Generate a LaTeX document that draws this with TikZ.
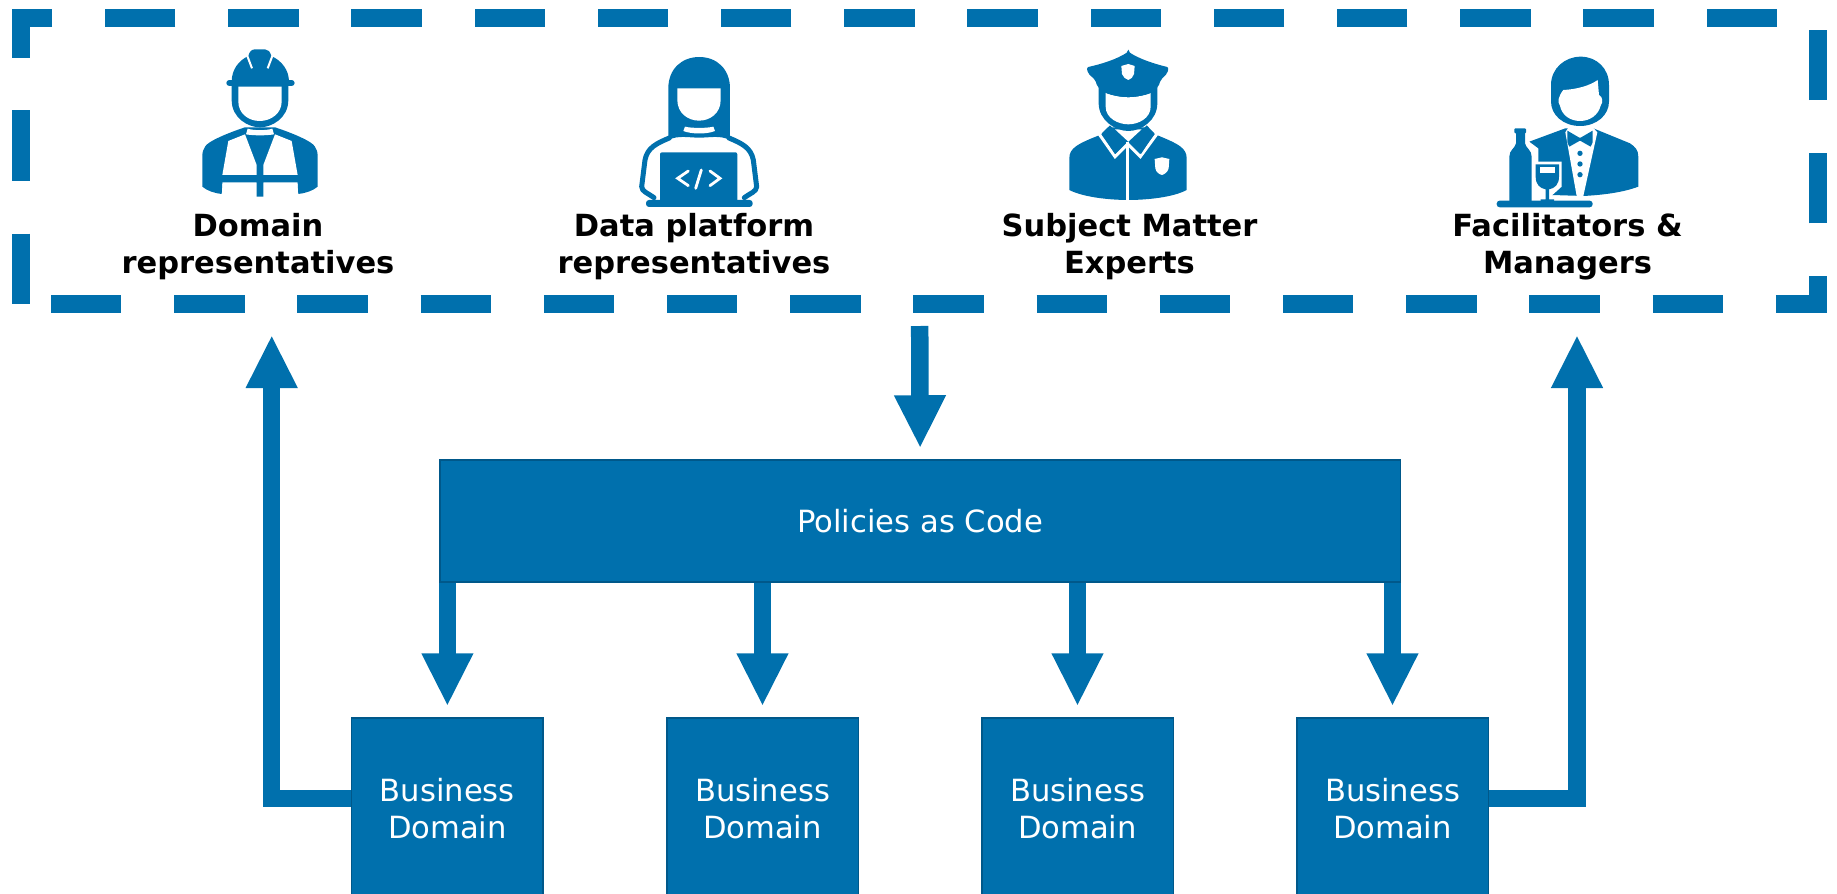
\documentclass[tikz,border=0pt]{standalone}
\usepackage{fontspec}
\setmainfont{DejaVu Sans}
\usetikzlibrary{arrows.meta}
\definecolor{iconblue}{RGB}{0,112,173}
\definecolor{edgeblue}{RGB}{0,88,138}
\begin{document}
\begin{tikzpicture}[x=1pt,y=-1pt,
  bluebox/.style={draw=edgeblue,fill=iconblue,line width=1.5pt,text=white,align=center,inner sep=0pt,font=\fontsize{30.6}{36.5}\selectfont},
  teamlabel/.style={align=center,inner sep=0pt,font=\bfseries\fontsize{30.5}{37}\selectfont},
  flow/.style={draw=iconblue,line width=17.5pt,-{Triangle[length=53pt,width=48pt]}},
  iconline/.style={draw=iconblue,line width=5pt,line cap=round,line join=round},
  iconicon/.style={shift={#1},scale=0.3333}]

\useasboundingbox (0,0) rectangle (1837,894);

% Equipe
\node[draw=iconblue,line width=18pt,dash pattern=on 70.4pt off 52.8pt,dash phase=93.2pt,minimum width=1797.3pt,minimum height=285.7pt,inner sep=0pt] (team) at (919.65,161.15) {};

% Rotulos
\node[teamlabel] (domainlabel) at (258,246.5) {Domain\\representatives};
\node[teamlabel] (platformlabel) at (694,246.5) {Data platform\\representatives};
\node[teamlabel] (expertlabel) at (1129.5,246.5) {Subject Matter\\Experts};
\node[teamlabel] (managerlabel) at (1567.5,246.5) {Facilitators \&\\Managers};

% Caixas
\node[bluebox,minimum width=960.5pt,minimum height=122pt] (policies) at (920.2,521) {Policies as Code};
\node[bluebox,minimum width=191.5pt,minimum height=181pt] (bd1) at (447.4,808.5) {Business\\Domain};
\node[bluebox,minimum width=191.5pt,minimum height=181pt] (bd2) at (762.5,808.5) {Business\\Domain};
\node[bluebox,minimum width=191.5pt,minimum height=181pt] (bd3) at (1077.5,808.5) {Business\\Domain};
\node[bluebox,minimum width=191.5pt,minimum height=181pt] (bd4) at (1392.5,808.5) {Business\\Domain};

% Setas
\draw[flow,shorten <=13pt,shorten >=11pt] (team.south) -- (policies.north);
\draw[flow,shorten >=11pt] (policies.south -| bd1.north) -- (bd1.north);
\draw[flow,shorten >=11pt] (policies.south -| bd2.north) -- (bd2.north);
\draw[flow,shorten >=11pt] (policies.south -| bd3.north) -- (bd3.north);
\draw[flow,shorten >=11pt] (policies.south -| bd4.north) -- (bd4.north);

% Retornos
\coordinate (leftbend) at (271.7,798.5);
\coordinate (lefttip) at (271.7,335);
\coordinate (rightbend) at (1577,798.5);
\coordinate (righttip) at (1577,335);
\draw[flow] (bd1.west |- leftbend) -- (leftbend) -- (lefttip);
\draw[flow] (bd4.east |- rightbend) -- (rightbend) -- (righttip);

% Trabalhador
\begin{scope}[iconicon={(190,40)}]
\fill[iconblue] (37,350) .. controls (37,322) and (48,312) .. (75,298) .. controls (105,283) and (135,272) .. (165,262) -- (255,262) .. controls (285,272) and (315,283) .. (345,298) .. controls (372,312) and (383,322) .. (383,350) -- (383,440) .. controls (370,452) and (345,460) .. (325,462) -- (323,427) -- (220,427) -- (220,470) -- (200,470) -- (200,427) -- (97,427) -- (95,462) .. controls (75,460) and (50,452) .. (37,440) -- cycle;
\fill[white] (115,303) -- (165,283) -- (200,375) -- (200,405) -- (97,405) -- cycle;
\fill[white] (305,303) -- (255,283) -- (220,375) -- (220,405) -- (323,405) -- cycle;
\fill[white] (173,266) .. controls (190,272) and (230,272) .. (247,266) -- (252,283) .. controls (230,287) and (190,287) .. (168,283) -- cycle;
\fill[iconblue] (125,125) -- (125,180) .. controls (125,235) and (175,262) .. (210,262) .. controls (245,262) and (295,235) .. (295,180) -- (295,125) -- cycle;
\fill[white] (145,140) -- (145,185) .. controls (145,220) and (175,243) .. (209,243) .. controls (243,243) and (275,220) .. (275,185) -- (275,140) -- cycle;
\fill[iconblue] (125,125) .. controls (125,90) and (145,62) .. (175,48) .. controls (178,35) and (185,28) .. (195,28) -- (225,28) .. controls (235,28) and (240,35) .. (244,48) .. controls (275,62) and (297,90) .. (297,125) -- cycle;
\draw[iconblue,line width=6pt,line cap=round] (118,129) -- (305,129);
\draw[white,line width=2pt] (172,48) -- (186,85) (247,48) -- (233,85);
\end{scope}

% Programadora
\begin{scope}[iconicon={(630,45)}]
\fill[iconblue] (115,285) -- (115,130) .. controls (115,72) and (155,36) .. (208,36) .. controls (260,36) and (300,72) .. (300,130) -- (300,285) .. controls (270,270) and (240,278) .. (208,278) .. controls (175,278) and (145,270) .. (115,285) -- cycle;
\fill[white] (165,245) .. controls (185,250) and (230,250) .. (250,245) -- (255,258) .. controls (230,268) and (185,268) .. (160,258) -- cycle;
\fill[white] (142,130) -- (272,130) -- (272,165) .. controls (272,205) and (240,227) .. (207,227) .. controls (175,227) and (142,205) .. (142,165) -- cycle;
\draw[iconline] (118,279) .. controls (80,295) and (52,308) .. (45,345) -- (35,425) .. controls (35,440) and (55,445) .. (72,458);
\draw[iconline] (297,279) .. controls (335,295) and (363,308) .. (370,345) -- (380,425) .. controls (380,440) and (360,445) .. (343,458);
\fill[iconblue,rounded corners=2pt] (90,322) rectangle (322,470);
\fill[iconblue,rounded corners=3pt] (48,465) rectangle (368,486);
\draw[white,line width=2.8pt,line cap=round] (175,378) -- (143,400) -- (175,422) (214,375) -- (197,430) (240,378) -- (270,400) -- (240,422);
\end{scope}

% Especialista
\begin{scope}[iconicon={(1060,40)}]
\fill[iconblue] (28,355) .. controls (28,325) and (50,312) .. (125,283) -- (150,262) -- (260,262) -- (285,283) .. controls (358,312) and (380,325) .. (380,355) -- (380,450) .. controls (340,472) and (260,480) .. (205,480) .. controls (150,480) and (70,472) .. (28,450) -- cycle;
\draw[white,line width=3pt,line join=miter] (118,283) -- (165,350) -- (203,312) -- (241,350) -- (290,283);
\fill[white] (165,268) -- (205,305) -- (245,268) -- cycle;
\fill[iconblue] (150,256) -- (197,307) -- (165,342) -- (125,280) -- cycle;
\fill[iconblue] (260,256) -- (213,307) -- (243,342) -- (283,280) -- cycle;
\fill[white] (198,305) rectangle (208,482);
\fill[white] (284,357) -- (306,352) -- (328,357) -- (326,385) .. controls (323,397) and (313,403) .. (306,405) .. controls (298,403) and (288,397) .. (286,385) -- cycle;
\fill[iconblue] (116,140) -- (116,190) .. controls (116,240) and (165,273) .. (205,273) .. controls (245,273) and (292,240) .. (292,190) -- (292,140) -- cycle;
\fill[white] (137,158) -- (137,200) .. controls (137,235) and (175,253) .. (205,253) .. controls (235,253) and (272,235) .. (272,200) -- (272,158) .. controls (250,168) and (225,172) .. (205,172) .. controls (185,172) and (160,168) .. (137,158) -- cycle;
\fill[iconblue,rounded corners=2pt] (205,35) .. controls (170,58) and (125,72) .. (80,82) -- (84,100) -- (106,120) -- (112,140) -- (135,158) .. controls (155,166) and (180,170) .. (205,170) .. controls (230,170) and (255,166) .. (275,158) -- (295,140) -- (302,120) -- (322,100) -- (326,82) .. controls (285,72) and (240,58) .. (205,35) -- cycle;
\fill[white] (184,78) -- (205,72) -- (224,78) -- (222,102) .. controls (220,112) and (212,117) .. (205,120) .. controls (198,117) and (188,112) .. (186,102) -- cycle;
\end{scope}

% Garcom
\begin{scope}[iconicon={(1490,45)}]
\fill[iconblue] (118,290) -- (226,250) -- (310,250) -- (420,295) .. controls (435,305) and (445,315) .. (445,335) -- (445,425) .. controls (400,442) and (340,450) .. (280,453) -- (185,450) -- (145,450) -- (145,310) -- cycle;
\fill[white] (226,262) -- (238,243) -- (305,243) -- (322,262) -- (280,453) -- (260,453) -- cycle;
\fill[iconblue] (232,257) -- (268,278) -- (272,278) -- (308,257) -- (308,292) -- (302,305) -- (272,288) -- (268,288) -- (238,305) -- (232,292) -- cycle;
\fill[iconblue] (270,325) circle (8) (270,357) circle (8) (270,389) circle (8);
\fill[white] (118,290) -- (133,320) -- (133,350) -- (215,350) -- (215,425) -- (185,452) -- (100,470) -- (100,290) -- cycle;
\fill[iconblue] (183,120) .. controls (183,70) and (225,35) .. (272,35) .. controls (320,35) and (357,70) .. (357,120) -- (357,170) .. controls (357,210) and (320,243) .. (270,243) .. controls (220,243) and (183,210) .. (183,170) -- cycle;
\fill[white] (220,135) .. controls (260,133) and (300,122) .. (323,105) -- (327,150) .. controls (338,155) and (340,172) .. (332,182) .. controls (325,210) and (300,228) .. (270,228) .. controls (240,228) and (215,210) .. (210,182) .. controls (202,172) and (204,155) .. (220,135) -- cycle;
\fill[iconblue,rounded corners=1pt] (73,250) rectangle (108,265);
\fill[iconblue] (78,262) -- (105,262) -- (105,295) .. controls (108,310) and (125,315) .. (125,335) -- (125,470) -- (58,470) -- (58,335) .. controls (58,315) and (75,310) .. (78,295) -- cycle;
\fill[iconblue] (137,358) -- (207,358) -- (207,395) .. controls (207,418) and (195,430) .. (177,433) -- (177,463) -- (192,463) -- (192,470) -- (152,470) -- (152,463) -- (167,463) -- (167,433) .. controls (149,430) and (137,418) .. (137,395) -- cycle;
\fill[white] (150,367) rectangle (194,385);
\fill[iconblue,rounded corners=3pt] (20,467) rectangle (308,487);
\end{scope}

\end{tikzpicture}
\end{document}
